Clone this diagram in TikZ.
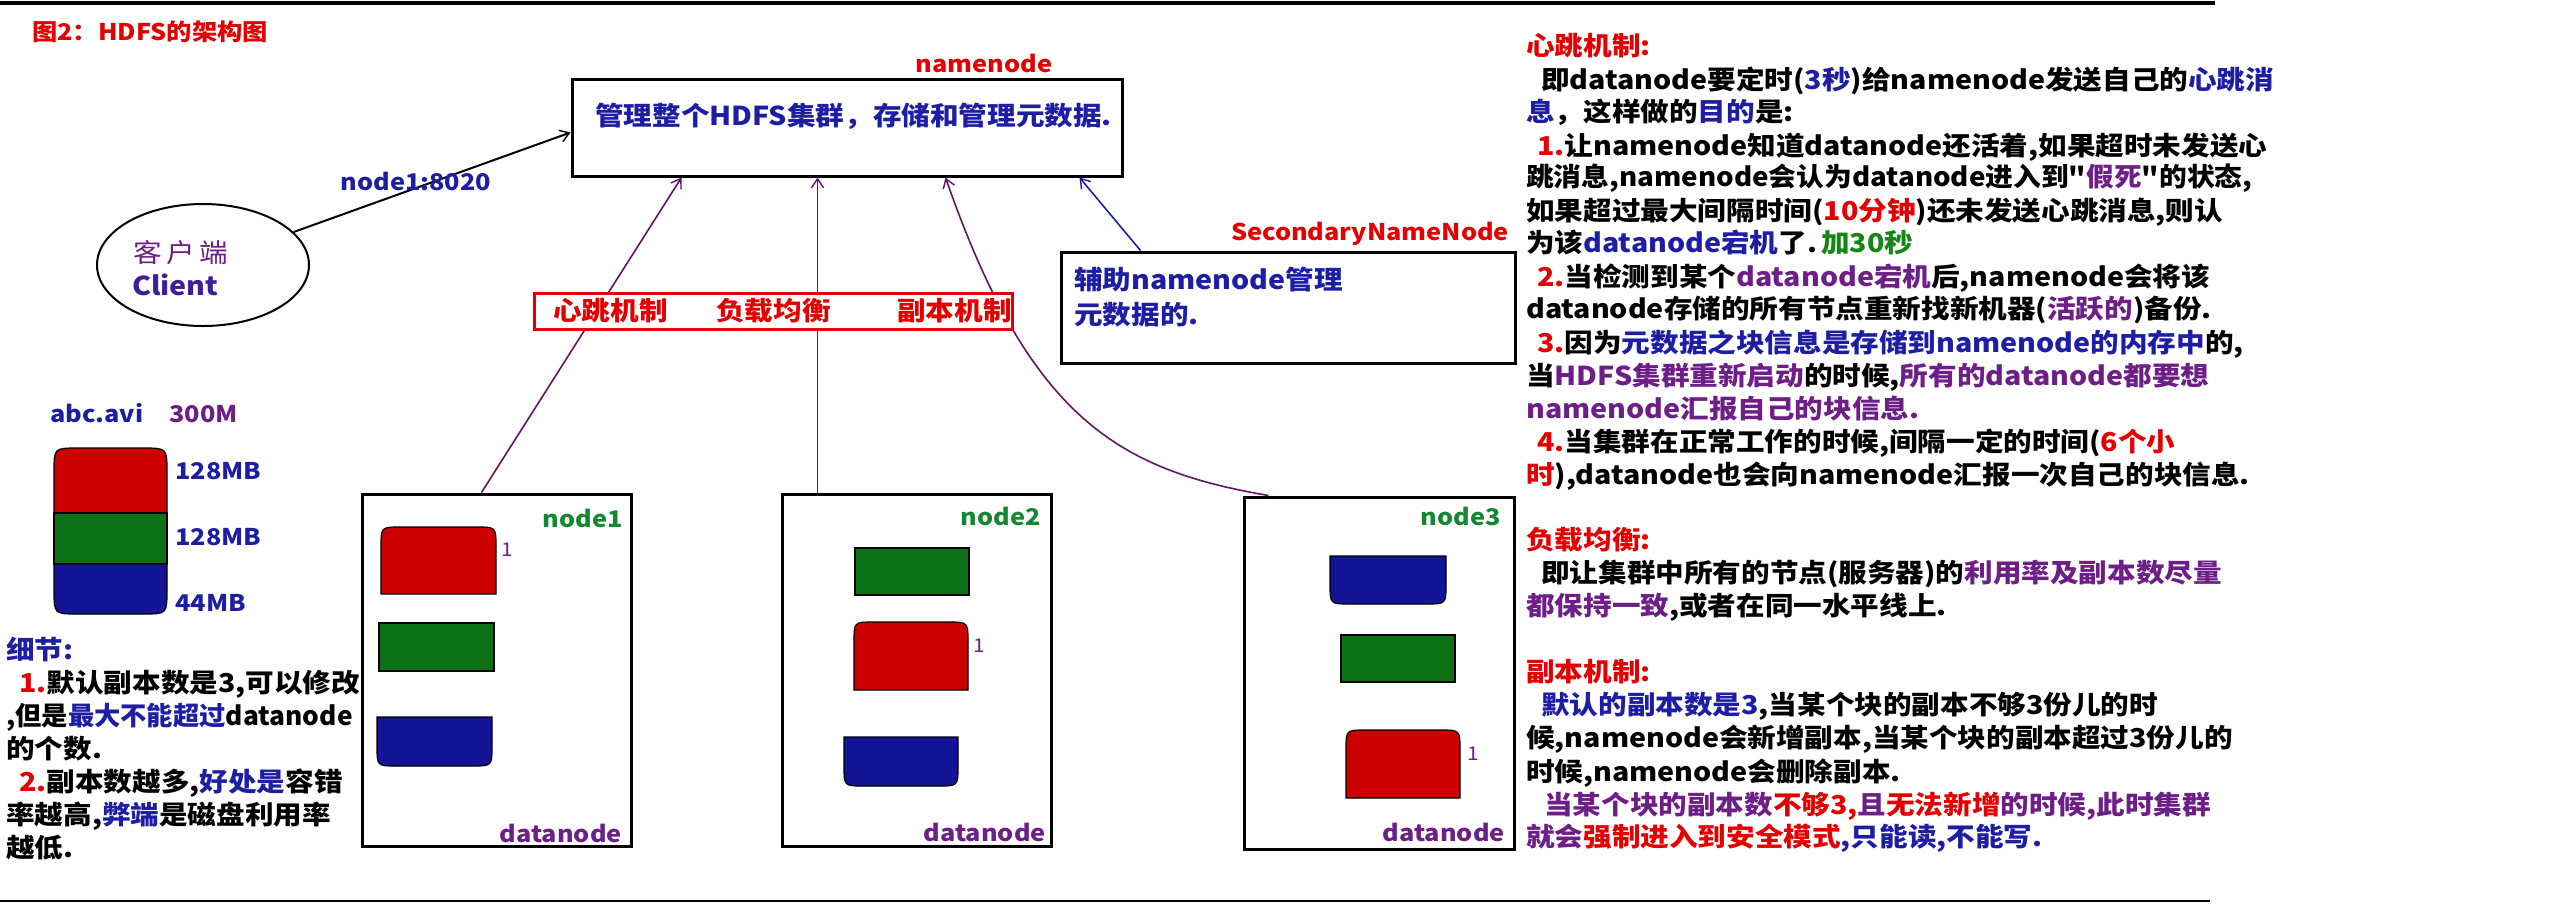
\documentclass[tikz,border=0pt]{standalone}
\usepackage{fontspec}
\newfontfamily\cjk{Noto Sans CJK SC}[FakeStretch=1.1]
\usetikzlibrary{shapes.geometric,arrows.meta,calc}
\definecolor{tblue}{RGB}{30,30,165}
\definecolor{tred}{RGB}{228,0,0}
\definecolor{tpurple}{RGB}{110,30,135}
\definecolor{tgreen}{RGB}{20,135,20}
\definecolor{ngreen}{RGB}{20,135,50}
\definecolor{bred}{RGB}{204,0,0}
\definecolor{bgreen}{RGB}{12,112,20}
\definecolor{bblue}{RGB}{20,20,150}
\definecolor{lpurple}{RGB}{100,20,100}
\newcommand{\blu}[1]{\textcolor{tblue}{#1}}
\newcommand{\rd}[1]{\textcolor{tred}{#1}}
\newcommand{\pur}[1]{\textcolor{tpurple}{#1}}
\newcommand{\grn}[1]{\textcolor{tgreen}{#1}}
\newcommand{\blktop}[6]{%
  \filldraw[fill=#5,draw=black,line width=1.2pt] (#1,#4) -- (#1,#2+#6) .. controls (#1,#2) .. (#1+#6,#2) -- (#3-#6,#2) .. controls (#3,#2) .. (#3,#2+#6) -- (#3,#4) -- cycle;}
\newcommand{\blkbot}[6]{%
  \filldraw[fill=#5,draw=black,line width=1.2pt] (#1,#2) -- (#3,#2) -- (#3,#4-#6) .. controls (#3,#4) .. (#3-#6,#4) -- (#1+#6,#4) .. controls (#1,#4) .. (#1,#4-#6) -- cycle;}
\begin{document}
\begin{tikzpicture}[x=1pt,y=-1pt,
  box/.style={draw=black,line width=3pt,fill=white,inner sep=0pt},
  tx/.style={anchor=west,inner sep=0pt,text height=23pt,text depth=4pt,font=\cjk\bfseries\fontsize{26}{30}\selectfont},
  lab/.style={inner sep=0pt,text height=20pt,text depth=4pt,font=\cjk\bfseries\fontsize{23}{26}\selectfont},
  one/.style={inner sep=0pt,text=tpurple,font=\cjk\fontsize{19}{20}\selectfont},
  conn/.style={line width=1.6pt},
  arr/.style={-{Straight Barb[length=9pt,width=12pt,line width=1.4pt]}},
]
\useasboundingbox (0,0) rectangle (2560,906);
\fill[white] (0,0) rectangle (2560,906);
% rules
\draw[line width=3.5pt] (0,3) -- (2215,3);
\draw[line width=2.5pt] (0,901) -- (2210,901);

% title
\node[tx,text=tred,font=\cjk\bfseries\fontsize{23}{26}\selectfont] (title) at (32,31) {图2：HDFS的架构图};

% main boxes
\node[box,minimum width=550pt,minimum height=97pt] (nn) at (847,127.5) {};
\node[box,minimum width=454pt,minimum height=111pt] (snn) at (1288,307.5) {};
\node[box,minimum width=269pt,minimum height=352pt] (dn1) at (496.5,670) {};
\node[box,minimum width=269pt,minimum height=352pt] (dn2) at (916.5,670) {};
\node[box,minimum width=270pt,minimum height=352pt] (dn3) at (1379,673) {};
\node[draw=black,line width=2pt,ellipse,minimum width=212pt,minimum height=122pt,inner sep=0pt] (client) at (203,265) {};

% connector end points
\coordinate (c1) at ($(nn.south west)+(111,0)$);
\coordinate (c2) at ($(nn.south west)+(247,0)$);
\coordinate (c3) at ($(nn.south west)+(375,0)$);
\coordinate (c4) at ($(nn.south west)+(509,0)$);
\coordinate (c0) at ($(nn.west)+(0,5)$);
\coordinate (d1) at ($(dn1.north west)+(121,0)$);
\coordinate (d2) at ($(dn2.north west)+(37,0)$);
\coordinate (d3) at ($(dn3.north west)+(26,0)$);
\coordinate (s4) at ($(snn.north west)+(81,0)$);

% connectors
\draw[conn,arr,black,line width=2pt] (client.20) -- (c0);
\draw[conn,arr,lpurple] (d1) -- (c1);
\draw[conn,arr,lpurple] (d2) -- (c2);
\draw[conn,arr,lpurple] (d3) .. controls (1120,470) and (1030,420) .. (c3);
\draw[conn,arr,tblue] (s4) -- (c4);

% mechanism box (over the connectors)
\node[draw=tred,line width=3pt,fill=white,minimum width=478pt,minimum height=36pt,inner sep=0pt] (mech) at (773,311) {};
\node[tx,text=tred] (m1) at (553,311) {心跳机制};
\node[tx,text=tred] (m2) at (716,311) {负载均衡};
\node[tx,text=tred] (m3) at (897,311) {副本机制};

% labels
\node[lab,text=tred] (nnlab) at (984,64) {namenode};
\node[tx,text=tblue] (nntext) at (595,116) {管理整个HDFS集群，存储和管理元数据.};
\node[lab,text=tblue] (port) at (416,182) {node1:8020};
\node[lab,text=tred] (snnlab) at (1370,232) {SecondaryNameNode};
\node[tx,text=tblue] (snn1) at (1074,280) {辅助namenode管理};
\node[tx,text=tblue] (snn2) at (1074,315) {元数据的.};
\node[tx,text=tpurple,font=\cjk\fontsize{26}{30}\selectfont] (cl1) at (133,253) {客\,户\,端};
\node[tx,text=tblue!60!tpurple] (cl2) at (132,286) {Client};

% datanode labels
\node[lab,text=ngreen,anchor=east] (n1) at (623,519) {node1};
\node[lab,text=ngreen,anchor=east] (n2) at (1041,517) {node2};
\node[lab,text=ngreen,anchor=east] (n3) at (1501,517) {node3};
\node[lab,text=tpurple,anchor=east] (dl1) at (622,834) {datanode};
\node[lab,text=tpurple,anchor=east] (dl2) at (1046,833) {datanode};
\node[lab,text=tpurple,anchor=east] (dl3) at (1505,833) {datanode};

% blocks in datanodes
\blktop{381}{527}{496}{594}{bred}{20}
\filldraw[fill=bgreen,draw=black,line width=1.2pt] (379,623) rectangle (494,671);
\blkbot{377}{717}{492}{766}{bblue}{20}
\node[one] (o1) at (507,550) {1};

\filldraw[fill=bgreen,draw=black,line width=1.2pt] (855,548) rectangle (969,595);
\blktop{854}{622}{968}{690}{bred}{20}
\blkbot{844}{737}{958}{786}{bblue}{20}
\node[one] (o2) at (979,646) {1};

\blkbot{1330}{556}{1446}{604}{bblue}{20}
\filldraw[fill=bgreen,draw=black,line width=1.2pt] (1341,635) rectangle (1455,682);
\blktop{1346}{730}{1460}{798}{bred}{20}
\node[one] (o3) at (1473,754) {1};

% file capsule
\node[lab,anchor=west,text=tblue] (fname) at (50,414) {abc.avi};
\node[lab,anchor=west,text=tpurple] (fsize) at (169,414) {300M};
\blktop{54}{448}{167}{513}{bred}{24}
\filldraw[fill=bgreen,draw=black,line width=1.2pt] (54,513) rectangle (167,564);
\blkbot{54}{564}{167}{614}{bblue}{24}
\node[lab,anchor=west,text=tblue] (s1) at (175,471) {128MB};
\node[lab,anchor=west,text=tblue] (s2) at (175,537) {128MB};
\node[lab,anchor=west,text=tblue] (s3) at (175,603) {44MB};

% left notes
\node[tx,text=tblue] (l0) at (6,650) {细节:};
\node[tx] (l1) at (19,683) {\rd{1.}默认副本数是3,可以修改};
\node[tx] (l2) at (6,716) {\scalebox{0.92}[1]{,但是\blu{最大不能超过}datanode}};
\node[tx] (l3) at (6,749) {的个数.};
\node[tx] (l4) at (19,782) {\rd{2.}副本数越多,\blu{好处是}容错};
\node[tx] (l5) at (6,815) {率越高,\blu{弊端}是磁盘利用率};
\node[tx] (l6) at (6,848) {越低.};

% right notes
\node[tx] (r0) at (1526,46) {\rd{心跳机制:}};
\node[tx] (r1) at (1541,80) {即datanode要定时(\blu{3秒})给namenode发送自己的\blu{心跳消}};
\node[tx] (r2) at (1526,112) {\blu{息}，这样做的\blu{目的}是:};
\node[tx] (r3) at (1537,146) {\rd{1.}让namenode知道datanode还活着,如果超时未发送心};
\node[tx] (r4) at (1526,177) {\scalebox{0.97}[1]{跳消息,namenode会认为datanode进入到"\pur{假死}"的状态,}};
\node[tx] (r5) at (1526,211) {如果超过最大间隔时间(\rd{10分钟})还未发送心跳消息,则认};
\node[tx] (r6) at (1526,243) {为该\blu{datanode宕机}了.};
\node[tx] (r6b) at (1821,243) {\grn{加30秒}};
\node[tx] (r7) at (1537,277) {\rd{2.}当检测到某个\pur{datanode宕机}后,namenode会将该};
\node[tx] (r8) at (1526,309) {datanode存储的所有节点重新找新机器(\pur{活跃的})备份.};
\node[tx] (r9) at (1537,343) {\rd{3.}因为\blu{元数据之块信息是存储到namenode的内存中}的,};
\node[tx] (r10) at (1526,376) {当\pur{HDFS集群重新启动}的时候,\pur{所有的datanode都要想}};
\node[tx] (r11) at (1526,409) {\pur{namenode汇报自己的块信息.}};
\node[tx] (r12) at (1537,442) {\rd{4.}当集群在正常工作的时候,间隔一定的时间(\rd{6个小}};
\node[tx] (r13) at (1526,475) {\rd{时}),datanode也会向namenode汇报一次自己的块信息.};
\node[tx] (r14) at (1526,540) {\rd{负载均衡:}};
\node[tx] (r15) at (1541,573) {即让集群中所有的节点(服务器)的\pur{利用率及副本数尽量}};
\node[tx] (r16) at (1526,606) {\pur{都保持一致},或者在同一水平线上.};
\node[tx] (r17) at (1526,672) {\rd{副本机制:}};
\node[tx] (r18) at (1541,705) {\blu{默认的副本数是3},当某个块的副本不够3份儿的时};
\node[tx] (r19) at (1526,738) {候,namenode会新增副本,当某个块的副本超过3份儿的};
\node[tx] (r20) at (1526,772) {时候,namenode会删除副本.};
\node[tx] (r21) at (1544,805) {\pur{当某个块的副本数}\rd{不够3,}\pur{且}\rd{无法新增}\pur{的时候,此时集群}};
\node[tx] (r22) at (1526,837) {\pur{就会}\rd{强制进入到安全模式}\blu{,只能读,不能写.}};
\end{tikzpicture}
\end{document}
